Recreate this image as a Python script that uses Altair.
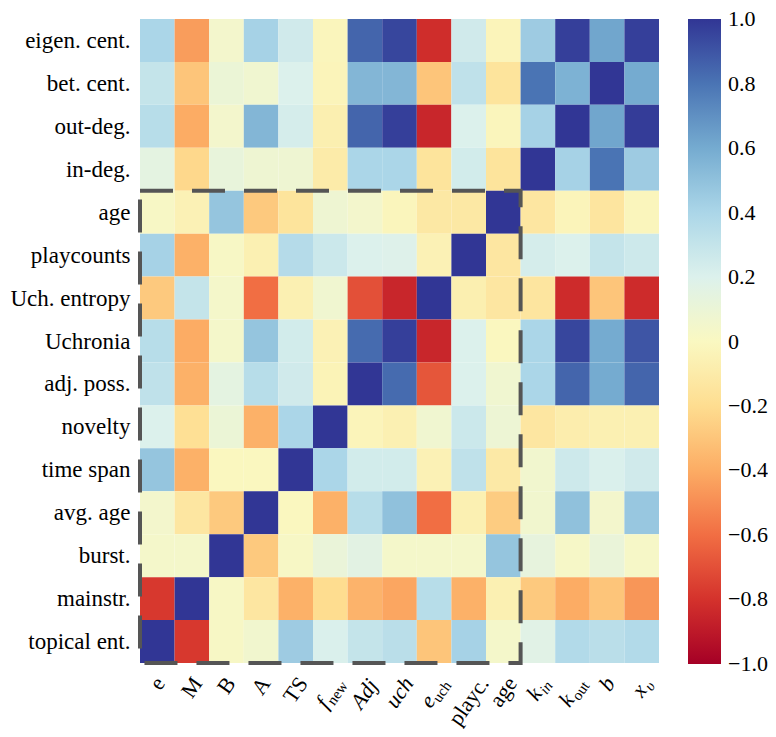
import json
import math
import altair as alt
import pandas as pd

# ---------------- data ----------------
rows = ["eigen. cent.", "bet. cent.", "out-deg.", "in-deg.", "age", "playcounts",
        "Uch. entropy", "Uchronia", "adj. poss.", "novelty", "time span",
        "avg. age", "burst.", "mainstr.", "topical ent."]

col_main = ["e", "M", "B", "A", "TS", "f", "Adj", "uch", "e", "playc.", "age", "k", "k", "b", "x"]
col_sub = ["", "", "", "", "", "new", "", "", "uch", "", "", "in", "out", "", "υ"]
main_italic = [False, False, False, False, False, True, True, True, True, False, False, True, True, True, True]
sub_italic = [False, False, False, False, False, False, False, False, False, False, False, True, False, False, True]

values = [
    [0.40, -0.45, 0.05, 0.42, 0.25, -0.02, 0.85, 0.95, -0.82, 0.25, -0.03, 0.45, 0.97, 0.62, 0.97],
    [0.30, -0.30, 0.10, 0.07, 0.20, -0.03, 0.55, 0.55, -0.30, 0.32, -0.15, 0.80, 0.57, 1.00, 0.60],
    [0.35, -0.40, 0.05, 0.55, 0.23, -0.07, 0.85, 0.97, -0.85, 0.20, -0.02, 0.42, 1.00, 0.62, 0.98],
    [0.15, -0.22, 0.12, 0.08, 0.08, -0.10, 0.40, 0.40, -0.15, 0.24, -0.15, 1.00, 0.42, 0.80, 0.45],
    [0.02, -0.05, 0.48, -0.28, -0.15, 0.08, 0.05, -0.02, -0.12, -0.12, 1.00, -0.13, -0.03, -0.14, -0.02],
    [0.42, -0.38, 0.02, -0.06, 0.36, 0.27, 0.20, 0.19, -0.05, 1.00, -0.13, 0.23, 0.20, 0.30, 0.26],
    [-0.28, 0.30, 0.04, -0.60, -0.06, 0.07, -0.70, -0.85, 1.00, -0.07, -0.13, -0.14, -0.83, -0.30, -0.83],
    [0.35, -0.40, 0.04, 0.48, 0.24, -0.05, 0.83, 0.97, -0.85, 0.20, -0.01, 0.40, 0.95, 0.60, 0.90],
    [0.32, -0.38, 0.15, 0.35, 0.25, -0.04, 1.00, 0.83, -0.68, 0.20, 0.07, 0.40, 0.85, 0.60, 0.85],
    [0.20, -0.18, 0.10, -0.38, 0.40, 1.00, -0.03, -0.06, 0.07, 0.27, 0.09, -0.13, -0.08, -0.06, -0.06],
    [0.48, -0.38, -0.01, -0.01, 1.00, 0.40, 0.24, 0.24, -0.05, 0.32, -0.11, 0.06, 0.26, 0.21, 0.25],
    [0.05, -0.13, -0.28, 1.00, -0.01, -0.38, 0.35, 0.50, -0.60, -0.06, -0.27, 0.06, 0.50, 0.05, 0.47],
    [0.04, 0.04, 1.00, -0.28, 0.02, 0.11, 0.16, 0.04, 0.04, 0.04, 0.48, 0.13, 0.03, 0.11, 0.03],
    [-0.78, 1.00, 0.02, -0.13, -0.38, -0.20, -0.37, -0.42, 0.35, -0.38, -0.06, -0.28, -0.40, -0.30, -0.47],
    [1.00, -0.78, 0.02, 0.06, 0.45, 0.21, 0.30, 0.34, -0.30, 0.42, 0.04, 0.17, 0.37, 0.34, 0.37],
]

legend_ticks = [-1.0, -0.8, -0.6, -0.4, -0.2, 0.0, 0.2, 0.4, 0.6, 0.8, 1.0]

# box around the block rows "age".."topical ent." x columns "e".."age"
box_first_row = "age"
box_last_col = 10

# ---------------- layout ----------------
W_PLOT, H_PLOT = 519, 644
FONT = "Liberation Serif"
FS = 23            # row labels
XFS, SFS = 22, 15  # column labels / subscripts
LFS = 22           # colorbar labels
N_R, N_C = len(rows), len(col_main)
COLW, ROWH = W_PLOT / N_C, H_PLOT / N_R
ANGLE = 55         # degrees, counter-clockwise

cells = pd.DataFrame([
    {"xi": j, "xi1": j + 1, "yi": i, "yi1": i + 1, "v": values[i][j]}
    for i in range(N_R) for j in range(N_C)
])

box = pd.DataFrame([{"x0": 0, "x1": box_last_col + 1,
                     "y0": rows.index(box_first_row), "y1": N_R}])

# approximate Times glyph widths (em) to place rotated labels with subscripts
CW = {'a': .444, 'b': .5, 'c': .444, 'd': .5, 'e': .444, 'f': .333, 'g': .5, 'h': .5,
      'i': .278, 'j': .278, 'k': .5, 'l': .278, 'n': .5, 'o': .5, 'p': .5, 'r': .333,
      's': .389, 't': .278, 'u': .5, 'w': .722, 'x': .5, 'y': .5, 'A': .722, 'B': .667,
      'M': .889, 'S': .556, 'T': .611, '.': .25, 'υ': .5}


def tw(s, size):
    return sum(CW.get(c, .5) for c in s) * size


theta = math.radians(ANGLE)
ux, uy = math.cos(theta), -math.sin(theta)
TOP = 12
lab = []
for j, (m, s) in enumerate(zip(col_main, col_sub)):
    mw, sw = tw(m, XFS), tw(s, SFS)
    Wt = mw + sw
    H = 0.7 * XFS
    hb = Wt * math.sin(theta) + H * math.cos(theta)
    cx, cy = 0.0, TOP + hb / 2
    px, py = cx - Wt / 2 * ux, cy - Wt / 2 * uy
    qx, qy = px + mw * ux, py + mw * uy
    lab.append({"main": m, "sub": s, "mi": main_italic[j], "si": sub_italic[j],
                "mx": j + 0.5 + px / COLW, "my": N_R + py / ROWH,
                "sx": j + 0.5 + qx / COLW, "sy": N_R + qy / ROWH})
labels = pd.DataFrame(lab)

xscale = alt.Scale(domain=[0, N_C], nice=False, zero=False)
yscale = alt.Scale(domain=[0, N_R], nice=False, zero=False, reverse=True)

label_expr = json.dumps(rows) + "[floor(datum.value)]"

heat = alt.Chart(cells).mark_rect().encode(
    x=alt.X("xi:Q", scale=xscale, axis=None),
    x2="xi1:Q",
    y=alt.Y("yi:Q", scale=yscale,
            axis=alt.Axis(values=[i + 0.5 for i in range(N_R)], labelExpr=label_expr,
                          ticks=False, domain=False, grid=False, title=None,
                          labelFont=FONT, labelFontSize=FS, labelColor="black",
                          labelPadding=10, labelOverlap=False)),
    y2="yi1:Q",
    color=alt.Color("v:Q",
                    # tiny domain margin keeps the end labels centred on the bar ends
                    scale=alt.Scale(scheme="redyellowblue", domain=[-1.0005, 1.0005]),
                    legend=alt.Legend(orient="right", offset=29, direction="vertical",
                                      gradientLength=H_PLOT + 1, gradientThickness=33,
                                      values=legend_ticks, title=None, padding=0,
                                      labelExpr="abs(datum.value) < 1e-9 ? '0' : format(datum.value, '.1f')",
                                      labelFont=FONT, labelFontSize=LFS, labelColor="black",
                                      labelOffset=7, labelOverlap=False,
                                      gradientStrokeWidth=0)),
)

rect_box = alt.Chart(box).mark_rect(filled=False, stroke="#555555", strokeWidth=4,
                                    strokeDash=[33, 19]).encode(
    x=alt.X("x0:Q", scale=xscale), x2="x1:Q",
    y=alt.Y("y0:Q", scale=yscale), y2="y1:Q",
)


def label_layer(field, flag_field, flag, xf, yf, size, italic, dy):
    base = alt.Chart(labels).transform_filter(
        f"datum.{field} != '' && datum.{flag_field} == {str(flag).lower()}")
    return base.mark_text(angle=360 - ANGLE, align="left", baseline="middle", font=FONT,
                          fontSize=size, fontStyle="italic" if italic else "normal",
                          color="black", dy=dy).encode(
        x=alt.X(f"{xf}:Q", scale=xscale),
        y=alt.Y(f"{yf}:Q", scale=yscale),
        text=f"{field}:N",
    )


layers = [heat, rect_box,
          label_layer("main", "mi", True, "mx", "my", XFS, True, 0),
          label_layer("main", "mi", False, "mx", "my", XFS, False, 0),
          label_layer("sub", "si", True, "sx", "sy", SFS, True, 6),
          label_layer("sub", "si", False, "sx", "sy", SFS, False, 6)]

chart = alt.layer(*layers).properties(
    width=W_PLOT, height=H_PLOT,
    autosize=alt.AutoSizeParams(type="none"),
    padding={"left": 132, "top": 11, "right": 109, "bottom": 66},
).configure_view(strokeWidth=0)

chart.save("out.html", embed_options={"renderer": "svg", "actions": False})
